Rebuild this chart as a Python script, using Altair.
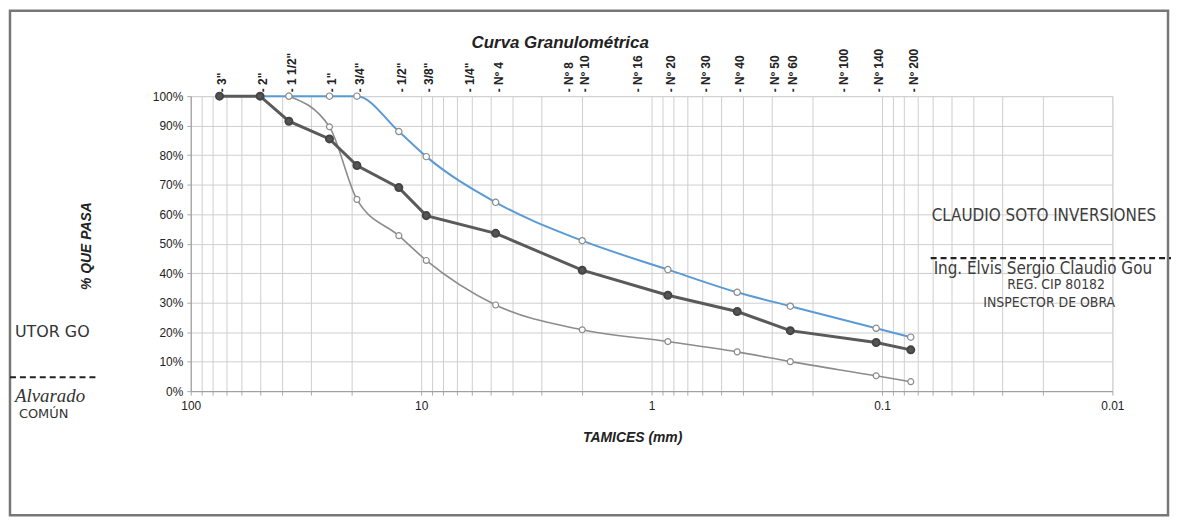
import altair as alt
import pandas as pd

# ---- data ----
sieve_names = ['3"', '2"', '1 1/2"', '1"', '3/4"', '1/2"', '3/8"', '1/4"', 'Nº 4', 'Nº 8',
               'Nº 10', 'Nº 16', 'Nº 20', 'Nº 30', 'Nº 40', 'Nº 50', 'Nº 60', 'Nº 100', 'Nº 140', 'Nº 200']
sieve_mm = [75, 50, 37.5, 25, 19, 12.5, 9.5, 6.3, 4.75, 2.36,
            2.0, 1.18, 0.85, 0.6, 0.425, 0.3, 0.25, 0.15, 0.106, 0.075]
muestra = [100, 100, 91.5, 85.5, 76.5, 69, 59.5, None, 53.5, None,
           41, None, 32.5, None, 27, None, 20.5, None, 16.5, 14]
lim_sup = [None, 100, 100, 100, 100, 88, 79.5, None, 64, None,
           51, None, 41.2, None, 33.5, None, 28.8, None, 21.3, 18.3]
lim_inf = [None, None, 100, 89.6, 65, 52.7, 44.3, None, 29.2, None,
           20.8, None, 16.8, None, 13.3, None, 10, None, 5.2, 3.2]

x_ticks = [100, 90, 80, 70, 60, 50, 40, 30, 20, 10, 9, 8, 7, 6, 5, 4, 3, 2, 1,
           0.9, 0.8, 0.7, 0.6, 0.5, 0.4, 0.3, 0.2, 0.1,
           0.09, 0.08, 0.07, 0.06, 0.05, 0.04, 0.03, 0.02, 0.01]
x_labels = [100, 10, 1, 0.1, 0.01]
y_ticks = [0, 10, 20, 30, 40, 50, 60, 70, 80, 90, 100]

title_text = "Curva Granulométrica"
x_title = "TAMICES (mm)"
y_title = "% QUE PASA"

W, H = 928, 297
FONT = "Liberation Sans"


def series_df(vals):
    return pd.DataFrame([{"mm": m, "pct": v} for m, v in zip(sieve_mm, vals) if v is not None])


xscale = alt.Scale(type="log", domain=[0.01, 100], reverse=True, nice=False)
yscale = alt.Scale(domain=[0, 100], nice=False)

xaxis = alt.Axis(values=x_ticks, grid=True, gridColor="#cfcfcf", gridWidth=1,
                 labelExpr="indexof(%s, datum.value) >= 0 ? format(datum.value, '~g') : ''" % str(x_labels),
                 labelFont=FONT, labelFontSize=12, labelColor="#222", labelPadding=6,
                 tickSize=4, tickColor="#aaa", domainColor="#999", title=None, labelFlush=False,
                 labelOverlap=False)
yaxis = alt.Axis(values=y_ticks, grid=True, gridColor="#cfcfcf", gridWidth=1,
                 labelExpr="datum.value + '%'", labelFont=FONT, labelFontSize=12,
                 labelColor="#222", labelPadding=4, tickSize=4, tickColor="#aaa",
                 domainColor="#999", title=None)

X = alt.X("mm:Q", scale=xscale, axis=xaxis)
Y = alt.Y("pct:Q", scale=yscale, axis=yaxis)

sup_line = alt.Chart(series_df(lim_sup)).mark_line(color="#5b9bd5", strokeWidth=2, interpolate="monotone").encode(x=X, y=Y)
sup_pts = alt.Chart(series_df(lim_sup)).mark_point(shape="circle", filled=True, fill="white", stroke="#8a8a8a",
                                                   strokeWidth=1.2, size=40, opacity=1).encode(x=X, y=Y)
inf_line = alt.Chart(series_df(lim_inf)).mark_line(color="#8c8c8c", strokeWidth=1.6, interpolate="monotone").encode(x=X, y=Y)
inf_pts = alt.Chart(series_df(lim_inf)).mark_point(shape="circle", filled=True, fill="white", stroke="#8a8a8a",
                                                   strokeWidth=1.2, size=36, opacity=1).encode(x=X, y=Y)
mue_line = alt.Chart(series_df(muestra)).mark_line(color="#5a5a5a", strokeWidth=3, interpolate="linear").encode(x=X, y=Y)
mue_pts = alt.Chart(series_df(muestra)).mark_point(shape="circle", filled=True, fill="#555", stroke="#444",
                                                   size=50, opacity=1).encode(x=X, y=Y)

labels_df = pd.DataFrame({"mm": sieve_mm, "lab": ["- " + s for s in sieve_names]})
sieve_labels = alt.Chart(labels_df).mark_text(angle=270, align="left", baseline="middle", font=FONT,
                                              fontSize=12, fontWeight="bold", color="#222", dy=3).encode(
    x=X, y=alt.value(-4), text="lab:N")

one = pd.DataFrame({"a": [0]})
title_mark = alt.Chart(one).mark_text(font=FONT, fontSize=17, fontWeight="bold", fontStyle="italic",
                                      color="#222", align="center", baseline="middle").encode(
    x=alt.value(372), y=alt.value(-53), text=alt.value(title_text))
xtitle_mark = alt.Chart(one).mark_text(font=FONT, fontSize=14, fontWeight="bold", fontStyle="italic",
                                       color="#222", align="center", baseline="middle").encode(
    x=alt.value(445), y=alt.value(344), text=alt.value(x_title))
ytitle_mark = alt.Chart(one).mark_text(font=FONT, fontSize=14, fontWeight="bold", fontStyle="italic",
                                       color="#222", align="center", baseline="middle", angle=270).encode(
    x=alt.value(-104), y=alt.value(151), text=alt.value(y_title))

frame = alt.Chart(one).mark_rect(filled=False, stroke="#777", strokeWidth=2.5).encode(
    x=alt.value(-182), x2=alt.value(984), y=alt.value(-86), y2=alt.value(422))

# scanned stamp texts
stamp_texts = ["CLAUDIO SOTO INVERSIONES", "Ing. Elvis Sergio Claudio Gou", "REG. CIP 80182", "INSPECTOR DE OBRA",
               "UTOR GO", "Alvarado", "COMÚN"]
stamp_df = pd.DataFrame({
    "t": stamp_texts,
    "px": [746, 748, 822, 798, -177, -177, -173],
    "py": [121, 174, 190, 208, 238, 302, 320],
    "fs": [17, 17, 14, 14, 16, 19, 13],
})
stamp1 = alt.Chart(stamp_df.iloc[:4]).mark_text(align="left", baseline="middle",
                                                font="Liberation Sans Narrow, DejaVu Sans Condensed, Liberation Sans",
                                                color="#3c3c3c").encode(
    x=alt.X("px:Q", scale=None), y=alt.Y("py:Q", scale=None), text="t:N",
    size=alt.Size("fs:Q", scale=None, legend=None))
stamp2 = alt.Chart(stamp_df.iloc[[4, 6]]).mark_text(align="left", baseline="middle",
                                                    font="DejaVu Sans", color="#333").encode(
    x=alt.X("px:Q", scale=None), y=alt.Y("py:Q", scale=None), text="t:N",
    size=alt.Size("fs:Q", scale=None, legend=None))
stamp3 = alt.Chart(stamp_df.iloc[[5]]).mark_text(align="left", baseline="middle", font="Liberation Serif",
                                                 fontStyle="italic", color="#333").encode(
    x=alt.X("px:Q", scale=None), y=alt.Y("py:Q", scale=None), text="t:N",
    size=alt.Size("fs:Q", scale=None, legend=None))

dash_df = pd.DataFrame({"x1": [745, -182], "x2": [990, -92], "yy": [163, 283]})
dashes = alt.Chart(dash_df).mark_rule(strokeDash=[6, 4], strokeWidth=2.2, color="#222").encode(
    x=alt.X("x1:Q", scale=None), x2="x2:Q", y=alt.Y("yy:Q", scale=None))

chart = alt.layer(
    inf_line, inf_pts, sup_line, sup_pts, mue_line, mue_pts,
    sieve_labels, title_mark, xtitle_mark, ytitle_mark, frame, stamp1, stamp2, stamp3, dashes
).properties(
    width=W, height=H,
    padding={"left": 184, "top": 87, "right": 59, "bottom": 129},
    autosize=alt.AutoSizeParams(type="none"),
).configure_view(stroke="#bbb").configure(background="white")

chart.save("out.html", embed_options={"renderer": "svg", "actions": False})
